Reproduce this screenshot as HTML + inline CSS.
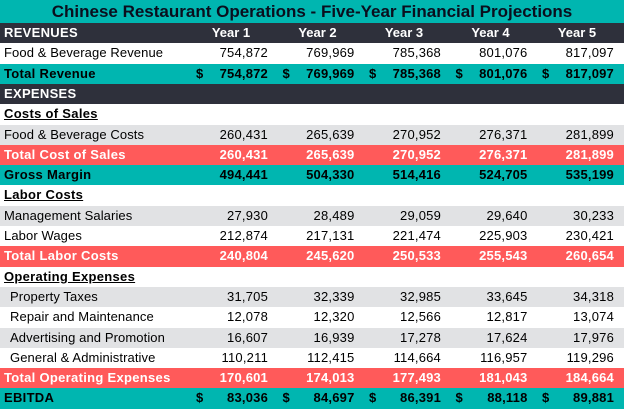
<!DOCTYPE html>
<html><head><meta charset="utf-8"><style>
*{margin:0;padding:0;box-sizing:border-box}
body{width:624px;height:410px;background:#fff;font-family:"Liberation Sans",Arial,sans-serif;font-size:13px;color:#000;position:relative;overflow:hidden}
.r{position:absolute;left:0;width:624px;height:20.3px;line-height:20.3px;white-space:nowrap}
.l{position:absolute;left:4px;letter-spacing:0.1px}
.in{left:10px}
.v{position:absolute;text-align:right;width:80px;letter-spacing:0.2px}
.d{position:absolute}
.h{position:absolute;width:86px;text-align:center;font-weight:bold}
.teal{background:#00B6B0;font-weight:bold}
.teal .l,.red .l,.dark .l{letter-spacing:0.3px}
.dark{background:#2E303B;color:#fff;font-weight:bold}
.red{background:#FF5A5A;color:#fff;font-weight:bold}
.gray{background:#E1E2E4}
.u{font-weight:bold;text-decoration:underline;letter-spacing:0.3px}
</style></head><body>
<div class="r teal" style="top:0;height:23px;line-height:23px;font-size:17px;text-align:center;color:#0a0f1e">Chinese Restaurant Operations - Five-Year Financial Projections</div>
<div id="rows"></div>
<script>
var X=[268,354.5,441,527.5,614];
var rows=[
["dark","REVENUES",null,"hdr"],
["","Food & Beverage Revenue",["754,872","769,969","785,368","801,076","817,097"]],
["teal","Total Revenue",["754,872","769,969","785,368","801,076","817,097"],"$"],
["dark","EXPENSES"],
["u","Costs of Sales"],
["gray","Food & Beverage Costs",["260,431","265,639","270,952","276,371","281,899"]],
["red","Total Cost of Sales",["260,431","265,639","270,952","276,371","281,899"]],
["teal","Gross Margin",["494,441","504,330","514,416","524,705","535,199"]],
["u","Labor Costs"],
["gray","Management Salaries",["27,930","28,489","29,059","29,640","30,233"]],
["","Labor Wages",["212,874","217,131","221,474","225,903","230,421"]],
["red","Total Labor Costs",["240,804","245,620","250,533","255,543","260,654"]],
["u","Operating Expenses"],
["gray in","Property Taxes",["31,705","32,339","32,985","33,645","34,318"]],
["in","Repair and Maintenance",["12,078","12,320","12,566","12,817","13,074"]],
["gray in","Advertising and Promotion",["16,607","16,939","17,278","17,624","17,976"]],
["in","General & Administrative",["110,211","112,415","114,664","116,957","119,296"]],
["red","Total Operating Expenses",["170,601","174,013","177,493","181,043","184,664"]],
["teal","EBITDA",["83,036","84,697","86,391","88,118","89,881"],"$"]
];
var h="";
rows.forEach(function(r,i){
 var top=23+i*20.3;
 var cls=r[0].replace("in","").trim();
 var lcls="l"+(r[0].indexOf("in")>=0?" in":"");
 h+='<div class="r '+(cls=="u"?"":cls)+'" style="top:'+top+'px">';
 h+='<span class="'+lcls+(cls=="u"?" u":"")+'">'+r[1].replace(/&/g,"&amp;")+'</span>';
 if(r[3]=="hdr"){for(var k=0;k<5;k++)h+='<span class="h" style="left:'+(X[k]-80)+'px">Year '+(k+1)+'</span>';}
 if(r[2]){for(var k=0;k<5;k++){
  if(r[3]=="$")h+='<span class="d" style="left:'+(X[k]-72)+'px">$</span>';
  h+='<span class="v" style="left:'+(X[k]-80)+'px">'+r[2][k]+'</span>';}}
 h+='</div>';
});
document.getElementById("rows").innerHTML=h;
</script>
</body></html>
